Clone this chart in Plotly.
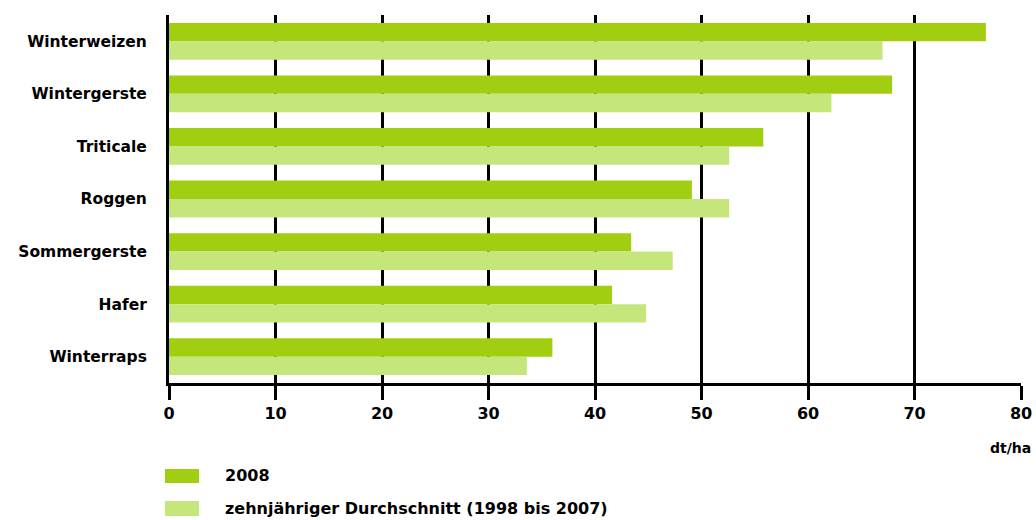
import plotly.graph_objects as go

categories = ["Winterweizen", "Wintergerste", "Triticale", "Roggen", "Sommergerste", "Hafer", "Winterraps"]
values_2008 = [76.7, 67.9, 55.8, 49.1, 43.4, 41.6, 36.0]
values_avg = [67.0, 62.2, 52.6, 52.6, 47.3, 44.8, 33.6]
series_names = ["2008", "zehnjähriger Durchschnitt (1998 bis 2007)"]
x_ticks = [0, 10, 20, 30, 40, 50, 60, 70, 80]
unit_label = "dt/ha"

c_dark = "#A2CE12"
c_light = "#C4E67B"
font_family = "DejaVu Sans"

fig = go.Figure()
fig.add_trace(go.Bar(y=categories, x=values_2008, orientation="h", name=series_names[0],
                     marker=dict(color=c_dark, line=dict(width=0))))
fig.add_trace(go.Bar(y=categories, x=values_avg, orientation="h", name=series_names[1],
                     marker=dict(color=c_light, line=dict(width=0))))

fig.update_layout(
    width=1036, height=520, autosize=False,
    margin=dict(l=169, r=15, t=15, b=137),
    paper_bgcolor="white", plot_bgcolor="white",
    barmode="group", bargap=0.3, bargroupgap=0,
    showlegend=False,
    font=dict(family=font_family, size=15, color="black", weight="bold"),
)
fig.update_xaxes(
    range=[0, 80], tickvals=x_ticks, ticktext=[str(v) for v in x_ticks],
    showgrid=True, gridcolor="black", gridwidth=3,
    showline=True, linecolor="black", linewidth=3,
    ticks="outside", ticklen=14, tickwidth=3, tickcolor="black",
    tickfont=dict(family=font_family, size=16, color="black", weight="bold"),
    zeroline=False, automargin=False,
)
fig.update_yaxes(
    autorange="reversed", showgrid=False,
    showline=True, linecolor="black", linewidth=3,
    ticks="", ticklabelstandoff=16, automargin=False,
    tickfont=dict(family=font_family, size=15.5, color="black", weight="bold"),
)

# legend (custom)
leg_y = [(-0.2337, -0.2717), (-0.3207, -0.3614)]
for (y0, y1), col, name in zip(leg_y, [c_dark, c_light], series_names):
    fig.add_shape(type="rect", xref="paper", yref="paper", x0=-0.0047, x1=0.0352,
                  y0=y1, y1=y0, fillcolor=col, line=dict(width=0))
    fig.add_annotation(xref="paper", yref="paper", x=0.0635, y=(y0 + y1) / 2,
                       text=name, showarrow=False, xanchor="left", yanchor="middle",
                       font=dict(family=font_family, size=16, color="black", weight="bold"))

fig.add_annotation(xref="paper", yref="paper", x=1.014, y=-0.1766, text=unit_label,
                   showarrow=False, xanchor="right", yanchor="middle",
                   font=dict(family=font_family, size=14, color="black", weight="bold"))

fig.write_html("out.html", config={"displayModeBar": False},
               post_script="document.body.style.margin='0';document.body.style.overflow='hidden';")
